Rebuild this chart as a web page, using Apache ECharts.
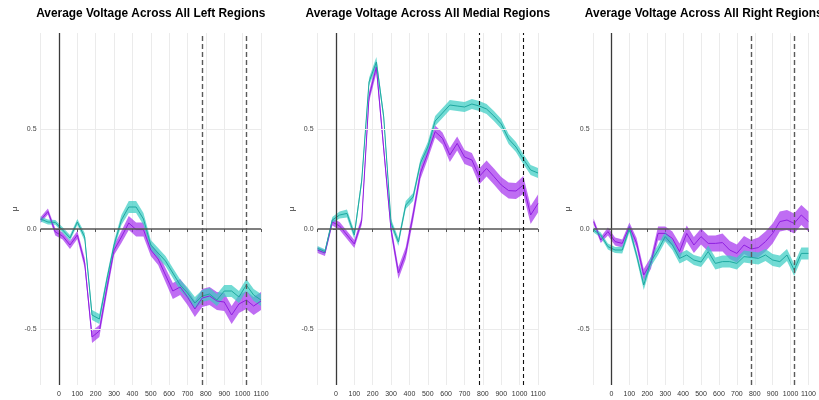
<!DOCTYPE html>
<html><head><meta charset="utf-8">
<script src="https://cdn.jsdelivr.net/npm/echarts@6/dist/echarts.min.js"></script>
<style>html,body{margin:0;padding:0;background:#fff}#c{width:819px;height:400px}</style>
</head><body><div id="c"></div>
<script>
const time = [-100,-60,-20,20,60,100,140,180,220,260,300,340,380,420,460,500,540,580,620,660,700,740,780,820,860,900,940,980,1020,1060,1100];
const xTickLabels = ['0','100','200','300','400','500','600','700','800','900','1000','1100'];
const yTickValues = [-0.5, 0, 0.5];
const titles = ['Average Voltage Across All Left Regions','Average Voltage Across All Medial Regions','Average Voltage Across All Right Regions'];
const markerTimes = [780, 1020];

const leftPurple = [0.045,0.087,-0.015,-0.035,-0.08,-0.03,-0.17,-0.54,-0.51,-0.30,-0.105,-0.04,0.03,-0.003,-0.003,-0.105,-0.15,-0.23,-0.31,-0.29,-0.34,-0.40,-0.345,-0.335,-0.36,-0.365,-0.43,-0.375,-0.355,-0.385,-0.36];
const leftPurpleSE = [0.015,0.015,0.018,0.018,0.02,0.02,0.025,0.03,0.03,0.03,0.025,0.03,0.035,0.035,0.035,0.03,0.03,0.035,0.04,0.04,0.04,0.04,0.045,0.045,0.045,0.045,0.045,0.045,0.045,0.045,0.045];
const leftCyan = [0.05,0.035,0.033,-0.005,-0.045,0.035,-0.04,-0.43,-0.45,-0.255,-0.08,0.045,0.11,0.11,0.05,-0.08,-0.12,-0.16,-0.22,-0.28,-0.32,-0.37,-0.335,-0.325,-0.355,-0.31,-0.31,-0.34,-0.28,-0.33,-0.355];
const leftCyanSE = [0.012,0.012,0.012,0.014,0.015,0.015,0.02,0.025,0.025,0.02,0.02,0.025,0.03,0.03,0.03,0.025,0.025,0.025,0.025,0.028,0.028,0.03,0.03,0.03,0.03,0.03,0.03,0.03,0.03,0.03,0.03];

const medPurple = [-0.105,-0.12,0.035,0.015,-0.03,-0.075,0.04,0.66,0.81,0.40,-0.005,-0.22,-0.12,0.07,0.28,0.38,0.487,0.453,0.37,0.428,0.36,0.345,0.262,0.303,0.262,0.22,0.192,0.19,0.22,0.07,0.128];
const medPurpleSE = [0.015,0.015,0.018,0.02,0.02,0.02,0.02,0.025,0.03,0.025,0.025,0.03,0.03,0.03,0.03,0.03,0.03,0.03,0.035,0.035,0.035,0.035,0.04,0.04,0.04,0.04,0.04,0.04,0.045,0.045,0.045];
const medCyan = [-0.097,-0.113,0.045,0.07,0.078,-0.03,0.24,0.735,0.835,0.56,0.03,-0.065,0.12,0.16,0.33,0.41,0.54,0.58,0.62,0.615,0.61,0.625,0.615,0.60,0.565,0.525,0.45,0.41,0.35,0.295,0.28];
const medCyanSE = [0.012,0.012,0.015,0.018,0.02,0.02,0.02,0.02,0.025,0.02,0.02,0.02,0.02,0.02,0.02,0.025,0.025,0.025,0.025,0.025,0.025,0.025,0.025,0.025,0.025,0.025,0.025,0.025,0.025,0.025,0.025];

const rightPurple = [0.037,-0.055,-0.013,-0.063,-0.072,0.012,-0.07,-0.23,-0.17,-0.022,-0.022,-0.047,-0.113,-0.022,-0.08,-0.038,-0.072,-0.072,-0.068,-0.105,-0.122,-0.08,-0.10,-0.093,-0.063,-0.022,0.037,0.045,0.028,0.07,0.037];
const rightPurpleSE = [0.015,0.015,0.02,0.02,0.02,0.02,0.025,0.03,0.03,0.035,0.035,0.035,0.04,0.04,0.04,0.04,0.04,0.04,0.045,0.045,0.045,0.045,0.045,0.05,0.05,0.05,0.05,0.05,0.05,0.05,0.05];
const rightCyan = [-0.005,-0.03,-0.088,-0.105,-0.105,0.003,-0.13,-0.28,-0.163,-0.105,-0.038,-0.08,-0.147,-0.13,-0.155,-0.165,-0.113,-0.172,-0.163,-0.163,-0.172,-0.138,-0.142,-0.147,-0.13,-0.155,-0.163,-0.13,-0.205,-0.122,-0.122];
const rightCyanSE = [0.012,0.012,0.015,0.015,0.018,0.02,0.02,0.025,0.025,0.025,0.025,0.025,0.025,0.025,0.025,0.025,0.03,0.03,0.03,0.03,0.03,0.03,0.03,0.03,0.03,0.03,0.03,0.03,0.03,0.03,0.03];

const PURPLE_LINE = '#8f1fe0', PURPLE_BAND = 'rgba(160,40,238,0.68)';
const CYAN_LINE = '#1fa8a0', CYAN_BAND = 'rgba(60,205,195,0.72)';

const panels = [
  {purple:leftPurple, pse:leftPurpleSE, cyan:leftCyan, cse:leftCyanSE, dash:'#5a5a5a', dw:1.4, dtype:[5,3]},
  {purple:medPurple, pse:medPurpleSE, cyan:medCyan, cse:medCyanSE, dash:'#111', dw:1.1, dtype:[4,3]},
  {purple:rightPurple, pse:rightPurpleSE, cyan:rightCyan, cse:rightCyanSE, dash:'#5a5a5a', dw:1.4, dtype:[5,3]}
];
const gridLefts = [40.6, 317.6, 593.6];
const GW = 220.4, GTOP = 33, GH = 352;

function band(xi, m, se, color) {
  return {
    type:'custom', xAxisIndex:xi, yAxisIndex:xi, silent:true, z:2, clip:true,
    data:[[time[0], m[0]]],
    renderItem: function(params, api) {
      const pts = [];
      for (let i = 0; i < time.length; i++) pts.push(api.coord([time[i], m[i] + se[i]]));
      for (let i = time.length - 1; i >= 0; i--) pts.push(api.coord([time[i], m[i] - se[i]]));
      return {type:'polygon', shape:{points:pts}, style:{fill:color}};
    }
  };
}
function line(xi, m, color) {
  return {type:'line', xAxisIndex:xi, yAxisIndex:xi, silent:true, z:3, showSymbol:false, symbol:'none',
    data: time.map((t,i)=>[t, m[i]]), lineStyle:{color:color, width:1}, itemStyle:{color:color}};
}

const grid = [], xAxis = [], yAxis = [], series = [], graphic = [];
panels.forEach((p, k) => {
  grid.push({left:gridLefts[k], top:GTOP, width:GW, height:GH});
  xAxis.push({type:'value', gridIndex:k, min:-100, max:1100, interval:100,
    axisLine:{show:false},
    axisTick:{show:true, length:3, lineStyle:{color:'#333', width:0.8}},
    axisLabel:{fontSize:7, color:'#333', margin:6, fontFamily:'Liberation Sans',
      formatter: v => { const i = xTickLabels.indexOf(String(v)); return i >= 0 ? xTickLabels[i] : ''; }},
    splitLine:{show:true, lineStyle:{color:'#ebebeb', width:1}}});
  yAxis.push({type:'value', gridIndex:k, min:-0.78, max:0.98,
    name:'μ', nameLocation:'middle', nameGap:22, nameRotate:90,
    nameTextStyle:{fontSize:8, color:'#333', fontFamily:'Liberation Sans'},
    axisLine:{show:false},
    axisTick:{show:true, length:3, customValues:yTickValues, lineStyle:{color:'#333', width:0.8}},
    axisLabel:{fontSize:7, color:'#444', margin:4, fontFamily:'Liberation Sans', customValues:yTickValues,
      formatter: v => Number(v).toFixed(1)},
    splitLine:{show:false}});
  series.push({type:'line', xAxisIndex:k, yAxisIndex:k, silent:true, z:0, data:[], symbol:'none',
    markLine:{silent:true, symbol:'none', label:{show:false}, animation:false,
      lineStyle:{color:'#ebebeb', width:1, type:'solid'},
      data: yTickValues.filter(v=>v!==0).map(v=>({yAxis:v}))}});
  series.push(band(k, p.purple, p.pse, PURPLE_BAND));
  series.push(band(k, p.cyan, p.cse, CYAN_BAND));
  series.push(line(k, p.purple, PURPLE_LINE));
  series.push(line(k, p.cyan, CYAN_LINE));
  series.push({type:'line', xAxisIndex:k, yAxisIndex:k, silent:true, z:5, data:[], symbol:'none',
    markLine:{silent:true, symbol:'none', label:{show:false}, animation:false,
      data:[
        {xAxis:0, lineStyle:{color:'#3a3a3a', width:1.3, type:'solid'}},
        {yAxis:0, lineStyle:{color:'#555', width:1.5, type:'solid'}},
        ...markerTimes.map(t=>({xAxis:t, lineStyle:{color:p.dash, width:p.dw, type:p.dtype}}))
      ]}});
  graphic.push({type:'text', x:gridLefts[k] + GW/2, y:14,
    style:{text:titles[k], textAlign:'center', textVerticalAlign:'middle',
      font:'bold 11.9px "Liberation Sans", Arial, sans-serif', fill:'#000'}});
});

const chart = echarts.init(document.getElementById('c'), null, {renderer:'canvas'});
chart.setOption({animation:false, backgroundColor:'#fff', grid, xAxis, yAxis, series, graphic});
</script>
</body></html>
